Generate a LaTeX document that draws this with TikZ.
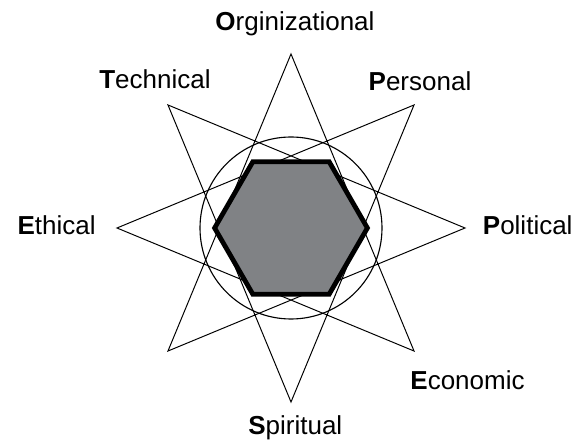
\documentclass[tikz,border=0pt]{standalone}
\usepackage{fontspec}
\setmainfont{Liberation Sans}
\usetikzlibrary{shapes.geometric}
\definecolor{coregray}{RGB}{128,130,133}

\begin{document}
\begin{tikzpicture}[
    starline/.style={draw, line width=0.7pt, line join=miter},
    ring/.style={circle, draw, line width=0.8pt, minimum size=4.55cm, inner sep=0pt},
    core/.style={regular polygon, regular polygon sides=6, draw, fill=coregray, line width=3.4pt, minimum size=3.82cm, inner sep=0pt},
    facet/.style={anchor=base, inner sep=0pt, font=\fontsize{18.5}{20}\selectfont}
]
\useasboundingbox (-7.275,-5.425) rectangle (7.05,5.7);

% Star points
\coordinate (pO) at (90:4.35);
\coordinate (pP) at (45:4.35);
\coordinate (pPo) at (0:4.35);
\coordinate (pE) at (-45:4.35);
\coordinate (pS) at (-90:4.35);
\coordinate (pX) at (-135:4.35);
\coordinate (pEt) at (180:4.35);
\coordinate (pT) at (135:4.35);

% Eight pointed star
\draw[starline] (pO) -- (pE) -- (pEt) -- (pP) -- (pS) -- (pT) -- (pPo) -- (pX) -- cycle;

% Circle and central hexagon
\node[ring] (ring) at (0,0) {};
\node[core] (hex) at (0,0) {};

% Labels
\node[facet] (org) at (0.1,4.925) {\textbf{O}rginizational};
\node[facet] (per) at (3.225,3.4375) {\textbf{P}ersonal};
\node[facet] (pol) at (5.918,-0.163) {\textbf{P}olitical};
\node[facet] (eco) at (4.4125,-4.033) {\textbf{E}conomic};
\node[facet] (spi) at (0.1075,-5.1625) {\textbf{S}piritual};
\node[facet] (eth) at (-5.858,-0.158) {\textbf{E}thical};
\node[facet] (tec) at (-3.4,3.475) {\textbf{T}echnical};

\end{tikzpicture}
\end{document}
